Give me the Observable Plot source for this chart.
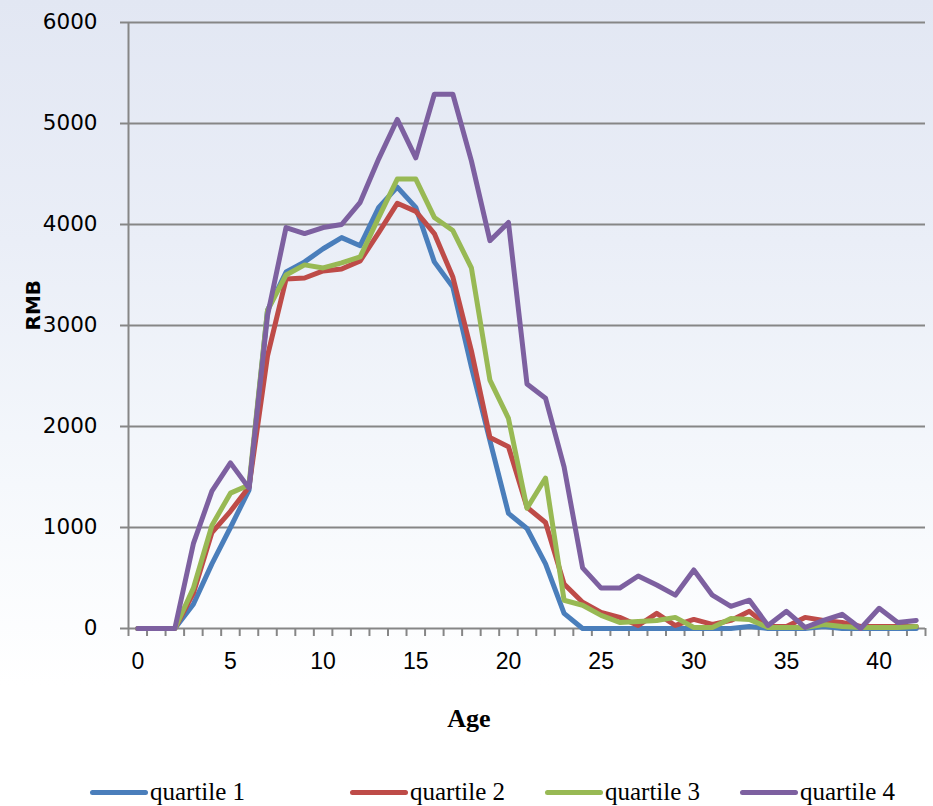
<!DOCTYPE html>
<html>
<head>
<meta charset="utf-8">
<script src="https://cdn.jsdelivr.net/npm/d3@7"></script>
<script src="https://cdn.jsdelivr.net/npm/@observablehq/plot@0.6"></script>
<style>
  html, body { margin: 0; padding: 0; }
  body {
    width: 933px; height: 806px; overflow: hidden;
    background: linear-gradient(180deg, #e2e7f3 0%, #eaeef7 30%, #f5f8fc 60%, #ffffff 85%, #ffffff 100%);
  }
  #chart svg { display: block; background: transparent; }
  #legend { position: relative; height: 56px; font-family: "Liberation Serif", "Times New Roman", serif; font-size: 25px; color: #000; }
  .item { position: absolute; top: 28px; display: flex; align-items: center; }
  .swatch { width: 58px; height: 5px; border-radius: 3px; margin-right: 2px; }
</style>
</head>
<body>
<div id="chart"></div>
<div id="legend"></div>
<script>
const ages = d3.range(0, 43);
const seriesNames = ["quartile 1", "quartile 2", "quartile 3", "quartile 4"];
const seriesColors = ["#4a7ebb", "#be4b48", "#98b954", "#7d60a0"];
const yTicks = [0, 1000, 2000, 3000, 4000, 5000, 6000];
const xTickLabels = [0, 5, 10, 15, 20, 25, 30, 35, 40];

const quartile1 = [0, 0, 0, 240, 640, 1000, 1370, 3150, 3530, 3630, 3760, 3870, 3790, 4170, 4370, 4170, 3630, 3380, 2590, 1860, 1140, 990, 640, 150, 0, 0, 0, 0, 0, 0, 0, 0, 0, 20, 0, 0, 0, 20, 0, 0, 0, 0, 0];
const quartile2 = [0, 0, 0, 350, 950, 1160, 1400, 2700, 3460, 3470, 3540, 3560, 3640, 3920, 4210, 4130, 3910, 3480, 2750, 1890, 1800, 1200, 1050, 440, 260, 160, 110, 30, 150, 30, 90, 40, 80, 170, 20, 20, 110, 80, 60, 20, 20, 20, 20];
const quartile3 = [0, 0, 0, 400, 1020, 1340, 1420, 3150, 3500, 3600, 3570, 3620, 3680, 4070, 4450, 4450, 4070, 3940, 3570, 2460, 2080, 1190, 1490, 280, 230, 130, 60, 70, 80, 110, 10, 10, 100, 90, 10, 10, 10, 40, 20, 10, 10, 10, 20];
const quartile4 = [0, 0, 0, 840, 1360, 1640, 1390, 3100, 3970, 3910, 3970, 4000, 4220, 4650, 5040, 4660, 5290, 5290, 4630, 3840, 4020, 2420, 2280, 1600, 600, 400, 400, 520, 430, 330, 580, 330, 220, 280, 30, 170, 10, 80, 140, 0, 200, 60, 80];

const allSeries = [quartile1, quartile2, quartile3, quartile4];
const data = allSeries.flatMap((vals, i) => vals.map((v, j) => ({age: ages[j], value: v, series: seriesNames[i]})));
const boundaries = d3.range(-0.5, 43, 1);

const axisColor = "#868686";

const chart = Plot.plot({
  width: 933,
  height: 750,
  marginLeft: 128,
  marginRight: 8,
  marginTop: 22,
  marginBottom: 122,
  style: {background: "transparent", overflow: "visible"},
  x: {domain: [-0.5, 42.5], axis: null},
  y: {domain: [0, 6000], axis: null},
  color: {domain: seriesNames, range: seriesColors},
  marks: [
    Plot.ruleY(yTicks.filter(d => d > 0), {stroke: axisColor, strokeWidth: 2, strokeOpacity: 1}),
    Plot.axisY({ticks: yTicks, tickSize: 8, tickPadding: 23, stroke: axisColor, strokeWidth: 2, label: null,
      fontSize: 21.5, fontFamily: "DejaVu Sans, Verdana, sans-serif", fill: "#000", tickFormat: d => String(d)}),
    Plot.ruleX([-0.5], {stroke: axisColor, strokeWidth: 2}),
    Plot.ruleY([0], {stroke: axisColor, strokeWidth: 2}),
    Plot.axisX({ticks: boundaries, tickSize: 8, tickFormat: () => "", stroke: axisColor, strokeWidth: 2, label: null}),
    Plot.axisX({ticks: xTickLabels, tickSize: 0, tickPadding: 24, label: null, fontSize: 23,
      fontFamily: "Liberation Sans Narrow, Arial Narrow, sans-serif", fill: "#000", tickFormat: d => String(d)}),
    Plot.line(data, {x: "age", y: "value", z: "series", stroke: "series", strokeWidth: 5, strokeLinejoin: "round", strokeLinecap: "round"}),
    Plot.text(["RMB"], {frameAnchor: "left", dx: -95, dy: 5, rotate: -90, fontSize: 20, fontWeight: "bold",
      fontFamily: "DejaVu Sans, Verdana, sans-serif", fill: "#000"}),
    Plot.text(["Age"], {frameAnchor: "bottom", dx: -58, dy: 98, fontSize: 26, fontWeight: "bold",
      fontFamily: "Liberation Serif, Times New Roman, serif", fill: "#000"})
  ]
});
document.getElementById("chart").appendChild(chart);

const legend = document.getElementById("legend");
const lefts = [90, 350, 545, 740];
seriesNames.forEach((name, i) => {
  const item = document.createElement("div");
  item.className = "item";
  item.style.left = lefts[i] + "px";
  const sw = document.createElement("div");
  sw.className = "swatch";
  sw.style.background = seriesColors[i];
  const label = document.createElement("span");
  label.textContent = name;
  item.appendChild(sw);
  item.appendChild(label);
  legend.appendChild(item);
});
</script>
</body>
</html>
